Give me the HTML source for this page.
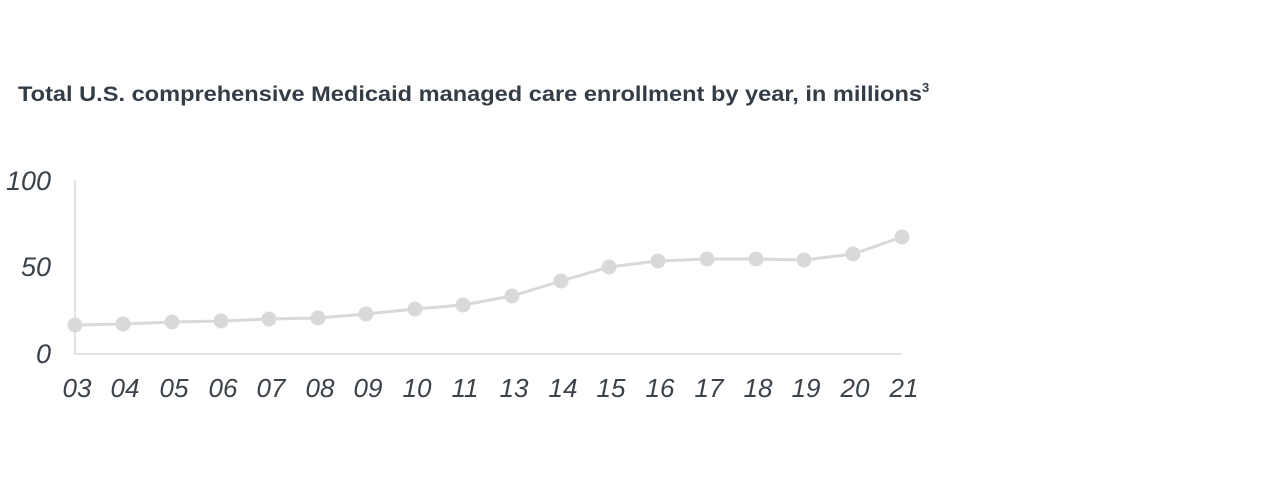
<!DOCTYPE html>
<html><head><meta charset="utf-8"><style>
body{margin:0;background:#fff;width:1280px;height:486px;overflow:hidden;font-family:"Liberation Sans",sans-serif}
</style></head><body>
<svg width="1280" height="486" xmlns="http://www.w3.org/2000/svg">
<text x="18" y="101" font-family="Liberation Sans, sans-serif" font-weight="bold" font-size="21" fill="#333d47"><tspan textLength="904" lengthAdjust="spacingAndGlyphs">Total U.S. comprehensive Medicaid managed care enrollment by year, in millions</tspan><tspan font-size="13" dy="-9">3</tspan></text>
<line x1="75" y1="180" x2="75" y2="354" stroke="#d9d9d9" stroke-width="1.5"/>
<line x1="75" y1="354" x2="902" y2="354" stroke="#d9d9d9" stroke-width="1.5"/>
<g font-family="Liberation Sans, sans-serif" font-style="italic" font-size="27" fill="#3b4249">
<text x="51" y="190" text-anchor="end">100</text>
<text x="51" y="276" text-anchor="end">50</text>
<text x="51" y="363" text-anchor="end">0</text>
</g>
<polyline fill="none" stroke="#d9d9d9" stroke-width="3" points="75,325 123,324 172,322 221,321 269,319 318,318 366,314 415,309 463,305 512,296 561,281 609,267 658,261 707,259 756,259 804,260 853,254 902,237"/>
<g fill="#d9d9d9">
<circle cx="75" cy="325" r="7.5"/><circle cx="123" cy="324" r="7.5"/><circle cx="172" cy="322" r="7.5"/><circle cx="221" cy="321" r="7.5"/><circle cx="269" cy="319" r="7.5"/><circle cx="318" cy="318" r="7.5"/><circle cx="366" cy="314" r="7.5"/><circle cx="415" cy="309" r="7.5"/><circle cx="463" cy="305" r="7.5"/><circle cx="512" cy="296" r="7.5"/><circle cx="561" cy="281" r="7.5"/><circle cx="609" cy="267" r="7.5"/><circle cx="658" cy="261" r="7.5"/><circle cx="707" cy="259" r="7.5"/><circle cx="756" cy="259" r="7.5"/><circle cx="804" cy="260" r="7.5"/><circle cx="853" cy="254" r="7.5"/><circle cx="902" cy="237" r="7.5"/>
</g>
<g font-family="Liberation Sans, sans-serif" font-style="italic" font-size="26" fill="#3b4249" text-anchor="middle">
<text x="77" y="397">03</text><text x="125" y="397">04</text><text x="174" y="397">05</text><text x="223" y="397">06</text><text x="271" y="397">07</text><text x="320" y="397">08</text><text x="368" y="397">09</text><text x="417" y="397">10</text><text x="465" y="397">11</text><text x="514" y="397">13</text><text x="563" y="397">14</text><text x="611" y="397">15</text><text x="660" y="397">16</text><text x="709" y="397">17</text><text x="758" y="397">18</text><text x="806" y="397">19</text><text x="855" y="397">20</text><text x="904" y="397">21</text>
</g>
</svg>
</body></html>
